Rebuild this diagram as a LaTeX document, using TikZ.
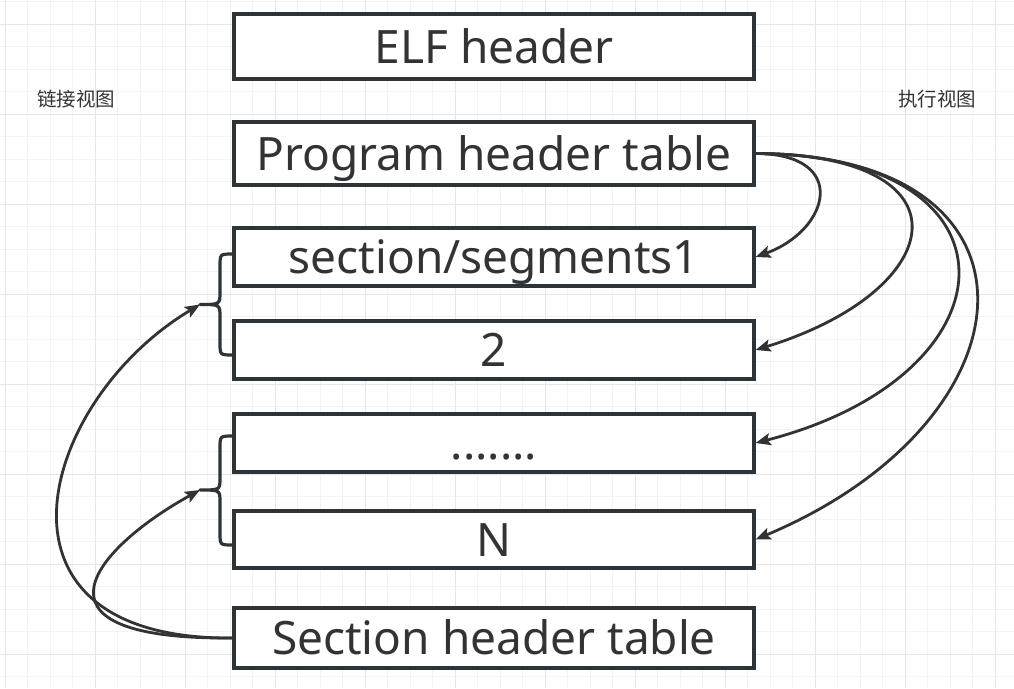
\documentclass[tikz,border=0pt]{standalone}
\usepackage{fontspec}
\setmainfont{Noto Sans}
\newfontfamily\cjk{Noto Sans CJK SC}
\usetikzlibrary{arrows.meta}
\definecolor{gridminor}{HTML}{F3F3F3}
\definecolor{gridmajor}{HTML}{E6E6E6}
\definecolor{boxline}{HTML}{2E3338}
\definecolor{arrowc}{HTML}{333333}
\definecolor{txt}{HTML}{333333}
\tikzset{
  box/.style={draw=boxline, line width=3.2pt, fill=white, minimum width=520pt,
    inner sep=0pt, text height=33pt, text depth=0pt,
    font=\fontsize{46}{46}\selectfont, text=txt},
  viewlabel/.style={font=\cjk\fontsize{19.5}{19.5}\selectfont, text=txt, inner sep=0pt},
  link/.style={draw=arrowc, line width=2.8pt, -{Stealth[length=15pt,width=12pt,inset=3pt]}},
  brace/.style={draw=boxline, line width=3.2pt, line join=round}
}
\begin{document}
\begin{tikzpicture}[x=1pt,y=-1pt]
\useasboundingbox (0,0) rectangle (1014,688);
\fill[white] (0,0) rectangle (1014,688);
% grid
\foreach \i in {0,...,44} \draw[gridminor, line width=1pt] ({5+22.5*\i},0) -- ({5+22.5*\i},688);
\foreach \i in {0,...,30} \draw[gridminor, line width=1pt] (0,{1.5+22.5*\i}) -- (1014,{1.5+22.5*\i});
\foreach \i in {0,...,11} \draw[gridmajor, line width=1pt] ({5+90*\i},0) -- ({5+90*\i},688);
\foreach \i in {0,...,7} \draw[gridmajor, line width=1pt] (0,{24+90*\i}) -- (1014,{24+90*\i});
% boxes
\node[box, minimum height=65pt] (elf) at (494,46.5) {ELF header};
\node[box, minimum height=63pt] (pht) at (494,153.5) {Program header table};
\node[box, minimum height=58pt] (s1) at (494,257) {section/segments1};
\node[box, minimum height=58pt] (s2) at (494,350) {2};
\node[box, minimum height=58pt] (s3) at (494,443) {.......};
\node[box, minimum height=57pt] (sn) at (494,539.5) {N};
\node[box, minimum height=60pt] (sht) at (494,638) {Section header table};
% view labels
\node[viewlabel] (lview) at (76,99) {链接视图};
\node[viewlabel] (eview) at (937,99) {执行视图};
% braces
\coordinate (b1) at (200,304.5);
\coordinate (b2) at (200,490);
\draw[brace] (233,254) .. controls (220,254) .. (220,266) -- (220,292) .. controls (220,304.5) .. (b1)
  .. controls (220,304.5) .. (220,317) -- (220,343) .. controls (220,355) .. (233,355);
\draw[brace] (233,436) .. controls (220,436) .. (220,448) -- (220,478) .. controls (220,490) .. (b2)
  .. controls (220,490) .. (220,502) -- (220,533) .. controls (220,545) .. (233,545);
% execution view arrows
\draw[link] (pht.east) .. controls (850,154) and (830,230) .. (s1.east);
\draw[link] (pht.east) .. controls (975,154) and (950,290) .. (s2.east);
\draw[link] (pht.east) .. controls (1030,154) and (1020,375) .. (s3.east);
\draw[link] (pht.east) .. controls (1060,154) and (1040,420) .. (sn.east);
% linking view arrows
\draw[link] (sht.west) .. controls (-30,640) and (40,400) .. (b1);
\draw[link] (sht.west) .. controls (10,640) and (100,545) .. (b2);
\end{tikzpicture}
\end{document}
